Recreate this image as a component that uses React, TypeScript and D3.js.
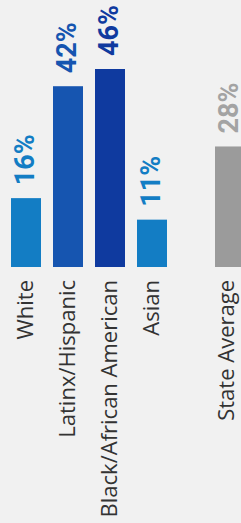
import * as d3 from "d3"
import { useEffect, useRef } from "react"

const groups = ["White", "Latinx/Hispanic", "Black/African American", "Asian"]
const groupValues = [16, 42, 46, 11]
const groupColors = ["#137dc4", "#1655b0", "#0f3a9f", "#137dc4"]
const averageLabel = "State Average"
const averageValue = 28
const averageColor = "#9b9b9b"
const averageTextColor = "#a3a3a3"

const W = 241
const H = 523

const App = () => {
    const ref = useRef<SVGSVGElement>(null)

    useEffect(() => {
        const svg = d3.select(ref.current)
        svg.selectAll("*").remove()

        const baseline = 267
        const y = d3.scaleLinear().domain([0, 46]).range([baseline, 69])

        const x = d3.scaleBand<string>()
            .domain(groups)
            .range([11, 167])
            .paddingInner(12 / 42)
            .paddingOuter(0)

        const xAvg = d3.scaleBand<string>()
            .domain([averageLabel])
            .range([215, 245])

        const rows = groups.map((g, i) => ({
            label: g, value: groupValues[i], color: groupColors[i], text: groupColors[i],
            x: x(g) as number, w: x.bandwidth(), shift: 0
        }))
        rows.push({
            label: averageLabel, value: averageValue, color: averageColor, text: averageTextColor,
            x: xAvg(averageLabel) as number, w: xAvg.bandwidth(), shift: -3
        })

        svg.append("rect")
            .attr("width", W)
            .attr("height", H)
            .attr("fill", "#f1f1f1")

        svg.selectAll(".bar")
            .data(rows)
            .join("rect")
            .attr("class", "bar")
            .attr("x", d => d.x)
            .attr("y", d => y(d.value))
            .attr("width", d => d.w)
            .attr("height", d => baseline - y(d.value))
            .attr("fill", d => d.color)

        // value labels, rotated, sitting above each bar
        svg.selectAll(".value")
            .data(rows)
            .join("text")
            .attr("class", "value")
            .attr("transform", d => `translate(${d.x + d.w / 2 - 0.5},${y(d.value) - 13}) rotate(-90)`)
            .attr("dy", "0.32em")
            .attr("text-anchor", "start")
            .attr("font-family", "Roboto, sans-serif")
            .attr("font-weight", 700)
            .attr("font-size", 27)
            .attr("fill", d => d.text)
            .text(d => `${d.value}%`)

        // category labels under the baseline
        svg.selectAll(".cat")
            .data(rows)
            .join("text")
            .attr("class", "cat")
            .attr("transform", d => `translate(${d.x + d.w / 2 + d.shift},${baseline + 13}) rotate(-90)`)
            .attr("dy", "0.3em")
            .attr("text-anchor", "end")
            .attr("font-family", "'Open Sans', sans-serif")
            .attr("font-size", 22)
            .attr("fill", "#333333")
            .text(d => d.label)
    }, [])

    return (
        <svg ref={ref} width={W} height={H}
            style={{ position: "absolute", left: 0, top: 0, display: "block" }}></svg>
    )
}

export default App
